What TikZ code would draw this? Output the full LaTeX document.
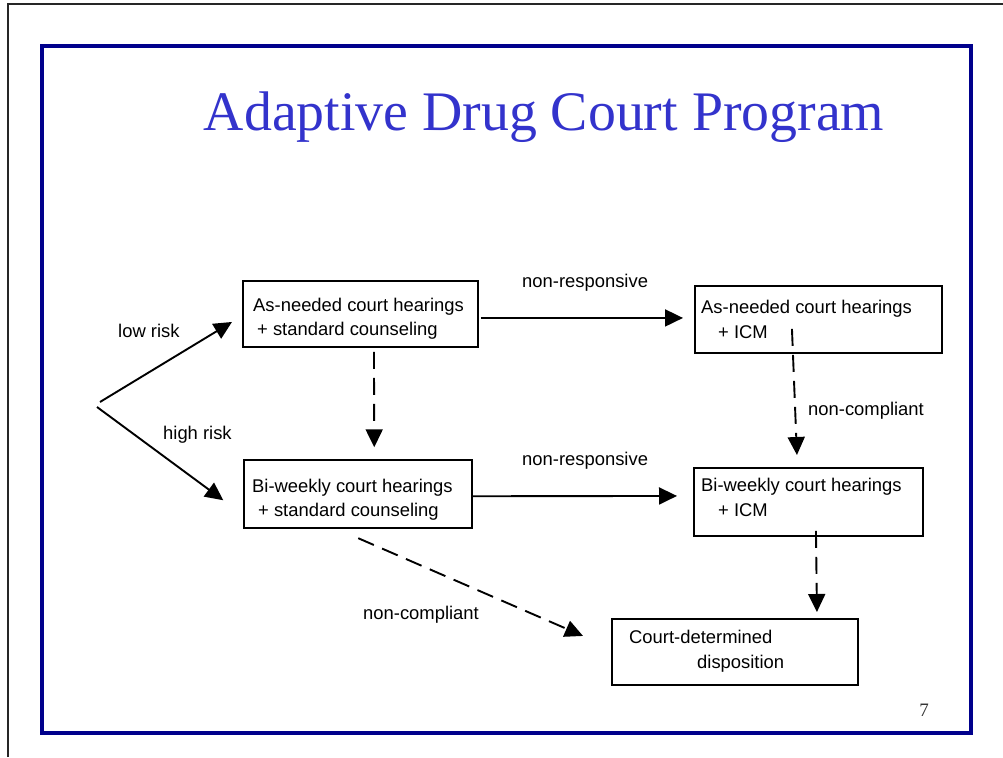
\documentclass[tikz,border=0pt]{standalone}
\usepackage{fontspec}
\setmainfont{Liberation Sans}
\newfontfamily\titlefont{Liberation Serif}
\usetikzlibrary{arrows.meta,calc}
\definecolor{framenavy}{RGB}{0,0,140}
\definecolor{titleblue}{RGB}{51,51,204}
\definecolor{pagegray}{RGB}{51,51,51}
\begin{document}
\begin{tikzpicture}[x=1pt,y=-1pt,
  box/.style={draw=black,line width=1.9pt,inner sep=0pt,anchor=north west},
  txt/.style={inner sep=0pt,anchor=base west,font=\fontsize{18.4}{22}\selectfont},
  arr/.style={line width=1.9pt,-{Triangle[length=18pt,width=17pt]}},
  dasharr/.style={arr,dash pattern=on 17pt off 9pt}]
\useasboundingbox (0,0) rectangle (1003,757);
\fill[white] (0,0) rectangle (1003,757);
% slide edge and framed panel
\draw[line width=1.4pt,black!85] (8,757) -- (8,4) -- (1003,4);
\draw[framenavy,line width=4pt] (42,46) rectangle (971,733);
% title
\node[inner sep=0pt,anchor=base,text=titleblue,font=\titlefont\fontsize{55.8}{60}\selectfont]
  (title) at (544,130) {Adaptive Drug Court Program};
% boxes
\node[box,minimum width=235pt,minimum height=66pt] (A) at (242,280) {};
\node[box,minimum width=228pt,minimum height=68pt] (B) at (243.3,459.3) {};
\node[box,minimum width=247pt,minimum height=67pt] (C) at (694,285) {};
\node[box,minimum width=229pt,minimum height=68pt] (D) at (693,467) {};
\node[box,minimum width=246pt,minimum height=66pt] (E) at (611,618) {};
% box texts
\node[txt] (a1) at (253,311) {As-needed court hearings};
\node[txt] (a2) at (257,335) {+ standard counseling};
\node[txt] (b1) at (252,492) {Bi-weekly court hearings};
\node[txt] (b2) at (258,516) {+ standard counseling};
\node[txt] (c1) at (701,313) {As-needed court hearings};
\node[txt] (c2) at (718,338) {+ ICM};
\node[txt] (d1) at (701,491) {Bi-weekly court hearings};
\node[txt] (d2) at (718,516) {+ ICM};
\node[txt] (e1) at (629,643) {Court-determined};
\node[txt] (e2) at (697,668) {disposition};
% connector labels
\node[txt] (lowlbl) at (118,337) {low risk};
\node[txt] (highlbl) at (163,439) {high risk};
\node[txt] (nr1) at (522,287) {non-responsive};
\node[txt] (nr2) at (522,465) {non-responsive};
\node[txt] (nc1) at (808,415) {non-compliant};
\node[txt] (nc2) at (363,619) {non-compliant};
% page number
\node[inner sep=0pt,anchor=base,text=pagegray,font=\titlefont\fontsize{19}{21}\selectfont]
  (pg) at (924,716) {7};
% connectors
\coordinate (fork) at (98,405);
\draw[arr] ($(fork)+(2,-3)$) -- ($(A.west)+(-10,8)$);
\draw[arr] ($(fork)+(-1,2)$) -- ($(B.west)+(-20,6)$);
\draw[arr] ($(A.east)+(2,4)$) -- ($(C.west)+(-11,-1.5)$);
\draw[arr] ($(B.east)+(0,2)$) -- ($(D.west)+(-16,-6)$);
\draw[dasharr] ($(A.south)+(13.5,4)$) -- ($(B.north)+(16,-12)$);
\draw[dasharr] ($(C.south)+(-26.5,-25)$) -- ($(D.north)+(-11.5,-12)$);
\draw[dasharr] ($(D.south)+(7.5,-6)$) -- ($(E.north)+(82,-6)$);
\draw[dasharr] ($(B.south)+(0,9)$) -- ($(E.west)+(-28,-16)$);
\end{tikzpicture}
\end{document}
